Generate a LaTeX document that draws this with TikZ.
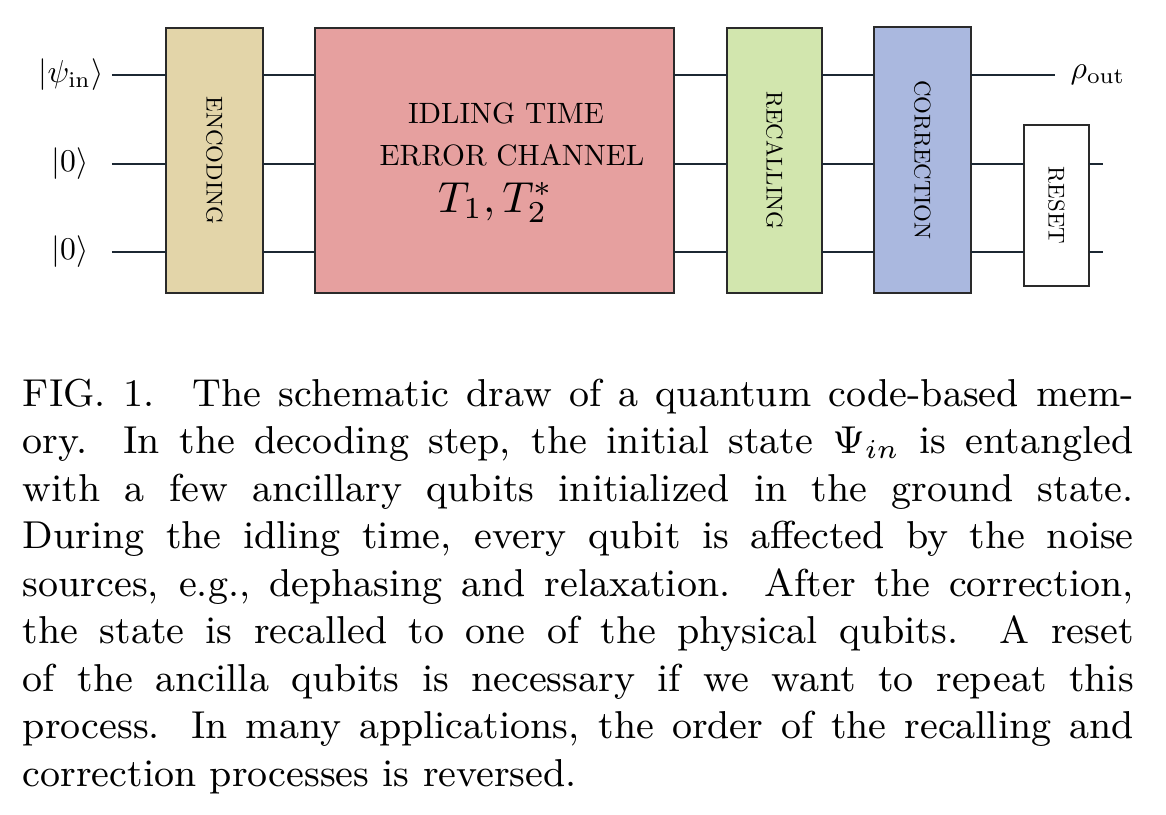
\RequirePackage{fix-cm}
\documentclass[tikz,border=0pt]{standalone}
\usepackage{amsmath}
\definecolor{encfill}{HTML}{E3D5A9}
\definecolor{idlefill}{HTML}{E6A09F}
\definecolor{recfill}{HTML}{D2E6AE}
\definecolor{corfill}{HTML}{AAB8DF}
\definecolor{wirecol}{HTML}{1C2833}
\definecolor{bordercol}{HTML}{2A2A2A}
\begin{document}
\begin{tikzpicture}[x=0.221pt,y=-0.221pt,
  wire/.style={line width=0.55pt, draw=wirecol},
  gate/.style={draw=bordercol, line width=0.35pt, inner sep=0pt, outer sep=0pt},
  vlabel/.style={rotate=-90, inner sep=0pt, scale=0.505, font=\fontsize{10}{12}\selectfont},
  boxtext/.style={inner sep=0pt, scale=0.65, font=\fontsize{10}{12}\selectfont},
  qlabel/.style={inner sep=0pt, scale=0.7, font=\fontsize{10}{12}\selectfont},
  captext/.style={anchor=north west, inner sep=0pt, text width=245.5pt, align=justify, font=\fontsize{8.6}{10.5}\selectfont}]
\useasboundingbox (0,0) rectangle (1166,814);
\fill[white] (0,0) rectangle (1166,814);

% gates
\node[gate, fill=encfill, minimum width=97*0.221pt, minimum height=265*0.221pt] (enc) at (214.5,160.5) {};
\node[gate, fill=idlefill, minimum width=359*0.221pt, minimum height=265*0.221pt] (idle) at (494.5,160.5) {};
\node[gate, fill=recfill, minimum width=95*0.221pt, minimum height=265*0.221pt] (rec) at (774.5,160.5) {};
\node[gate, fill=corfill, minimum width=97*0.221pt, minimum height=266*0.221pt] (cor) at (922.5,160) {};
\node[gate, fill=white, minimum width=65*0.221pt, minimum height=161*0.221pt] (reset) at (1056.5,205.5) {};

\node[vlabel] (enctxt) at (enc.center) {ENCODING};
\node[vlabel] (rectxt) at (rec.center) {RECALLING};
\node[vlabel] (cortxt) at (cor.center) {CORRECTION};
\node[vlabel] (restxt) at (reset.center) {RESET};

\node[boxtext, anchor=base] (idl1) at (506,123) {IDLING TIME};
\node[boxtext, anchor=base] (idl2) at (512,165) {ERROR CHANNEL};
\node[inner sep=0pt, anchor=base, scale=0.96, font=\fontsize{10}{12}\selectfont] (idl3) at (496,212) {$T_1, T_2^*$};

% wire endpoints
\coordinate (a1) at (112,75);
\coordinate (a2) at (112,164);
\coordinate (a3) at (112,252);
\coordinate (o1) at (1055,75);
\coordinate (o2) at (1103,164);
\coordinate (o3) at (1103,252);

\node[qlabel, anchor=east] (lpsi) at (104,75) {$|\psi_{\mathrm{in}}\rangle$};
\node[qlabel, anchor=east] (lz1) at (89,164) {$|0\rangle$};
\node[qlabel, anchor=east] (lz2) at (89,252) {$|0\rangle$};
\node[qlabel, anchor=west] (lrho) at (1070,75) {$\rho_{\mathrm{out}}$};

% wires
\foreach \a in {a1,a2,a3}{
  \draw[wire] (\a) -- (enc.west |- \a);
  \draw[wire] (enc.east |- \a) -- (idle.west |- \a);
  \draw[wire] (idle.east |- \a) -- (rec.west |- \a);
  \draw[wire] (rec.east |- \a) -- (cor.west |- \a);
}
\draw[wire] (cor.east |- a1) -- (o1);
\draw[wire] (cor.east |- a2) -- (reset.west |- a2);
\draw[wire] (cor.east |- a3) -- (reset.west |- a3);
\draw[wire] (reset.east |- a2) -- (o2);
\draw[wire] (reset.east |- a3) -- (o3);

% caption
\node[captext] (cap) at (22,378) {FIG.~1.\hspace{8.5pt}The schematic draw of a quantum code-based mem-\linebreak
ory.  In the decoding step, the initial state $\Psi_{in}$ is entangled\linebreak
with a few ancillary qubits initialized in the ground state.\linebreak
During the idling time, every qubit is affected by the noise\linebreak
sources, e.g.,\ dephasing and relaxation.  After the correction,\linebreak
the state is recalled to one of the physical qubits.  A reset\linebreak
of the ancilla qubits is necessary if we want to repeat this\linebreak
process. In many applications, the order of the recalling and\linebreak
correction processes is reversed.};
\end{tikzpicture}
\end{document}
